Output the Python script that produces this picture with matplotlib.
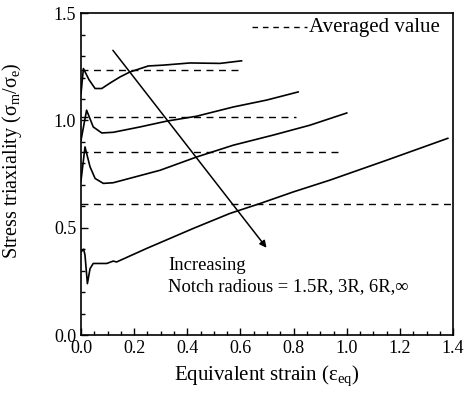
import numpy as np
import matplotlib
matplotlib.use("Agg")
import matplotlib.pyplot as plt
from matplotlib.ticker import MultipleLocator, FormatStrFormatter

plt.rcParams['font.family'] = ['Liberation Serif', 'DejaVu Serif']
plt.rcParams['mathtext.fontset'] = 'custom'
plt.rcParams['mathtext.rm'] = 'Liberation Serif'
plt.rcParams['mathtext.it'] = 'Liberation Serif:italic'

# notch radius 1.5R
x1 = [0.0, 0.009, 0.03, 0.053, 0.078, 0.11, 0.147, 0.184, 0.253, 0.31, 0.41, 0.523, 0.604]
y1 = [1.125, 1.242, 1.19, 1.149, 1.149, 1.175, 1.203, 1.226, 1.254, 1.258, 1.268, 1.266, 1.278]
# notch radius 3R
x2 = [0.0, 0.021, 0.046, 0.078, 0.121, 0.222, 0.322, 0.435, 0.573, 0.698, 0.817]
y2 = [0.908, 1.048, 0.97, 0.942, 0.945, 0.97, 0.997, 1.02, 1.063, 1.095, 1.133]
# notch radius 6R
x3 = [0.0, 0.015, 0.034, 0.053, 0.084, 0.121, 0.297, 0.435, 0.573, 0.723, 0.861, 1.0]
y3 = [0.72, 0.877, 0.784, 0.73, 0.707, 0.71, 0.768, 0.83, 0.885, 0.932, 0.978, 1.035]
# smooth specimen
x4 = [0.0, 0.01, 0.015, 0.024, 0.034, 0.046, 0.097, 0.121, 0.134, 0.247, 0.422, 0.56, 0.673, 0.798, 0.936, 1.15, 1.38]
y4 = [0.388, 0.40, 0.373, 0.24, 0.31, 0.334, 0.334, 0.345, 0.341, 0.404, 0.497, 0.567, 0.613, 0.667, 0.722, 0.815, 0.917]

# averaged values and extent of dashed lines
avg_vals = [1.234, 1.015, 0.852, 0.61]
avg_ends = [0.59, 0.81, 0.98, 1.40]

fig, ax = plt.subplots(figsize=(4.71, 3.99), dpi=100)
fig.subplots_adjust(left=0.172, right=0.962, top=0.967, bottom=0.16)

for xs, ys in [(x1, y1), (x2, y2), (x3, y3), (x4, y4)]:
    ax.plot(xs, ys, color='black', lw=1.2)

for v, e in zip(avg_vals, avg_ends):
    ax.plot([0, e], [v, v], color='black', lw=1.0, ls=(0, (5, 4)))

# legend entry
ax.plot([0.645, 0.85], [1.435, 1.435], color='black', lw=1.0, ls=(0, (4, 3.5)))
ax.text(0.858, 1.435, 'Averaged value', fontsize=15, va='center', ha='left')

ax.annotate('', xy=(0.698, 0.407), xytext=(0.12, 1.327),
            arrowprops=dict(arrowstyle='-|>', color='black', lw=1.1,
                            mutation_scale=10, shrinkA=0, shrinkB=0))
ax.text(0.327, 0.326, 'Increasing', fontsize=13.4, va='center')
ax.text(0.327, 0.224, 'Notch radious = 1.5R, 3R, 6R,\u221e', fontsize=13.4, va='center')

ax.set_xlim(0, 1.4)
ax.set_ylim(0, 1.5)
ax.xaxis.set_major_locator(MultipleLocator(0.2))
ax.xaxis.set_minor_locator(MultipleLocator(0.05))
ax.yaxis.set_major_locator(MultipleLocator(0.5))
ax.yaxis.set_minor_locator(MultipleLocator(0.1))
ax.xaxis.set_major_formatter(FormatStrFormatter('%.1f'))
ax.yaxis.set_major_formatter(FormatStrFormatter('%.1f'))
ax.tick_params(which='both', direction='in', top=False, right=False, labelsize=13)
ax.tick_params(which='major', length=5, width=1)
ax.tick_params(which='minor', length=3, width=1)
for s in ax.spines.values():
    s.set_linewidth(1.2)

ax.set_xlabel(r'Equivalent strain ($\mathrm{\varepsilon_{eq}}$)', fontsize=15, labelpad=5)
ax.set_ylabel(r'Stress triaxiality ($\mathrm{\sigma_m/\sigma_e}$)', fontsize=14.5)
ax.yaxis.set_label_coords(-0.153, 0.543)

fig.savefig('out.png', dpi=100)
